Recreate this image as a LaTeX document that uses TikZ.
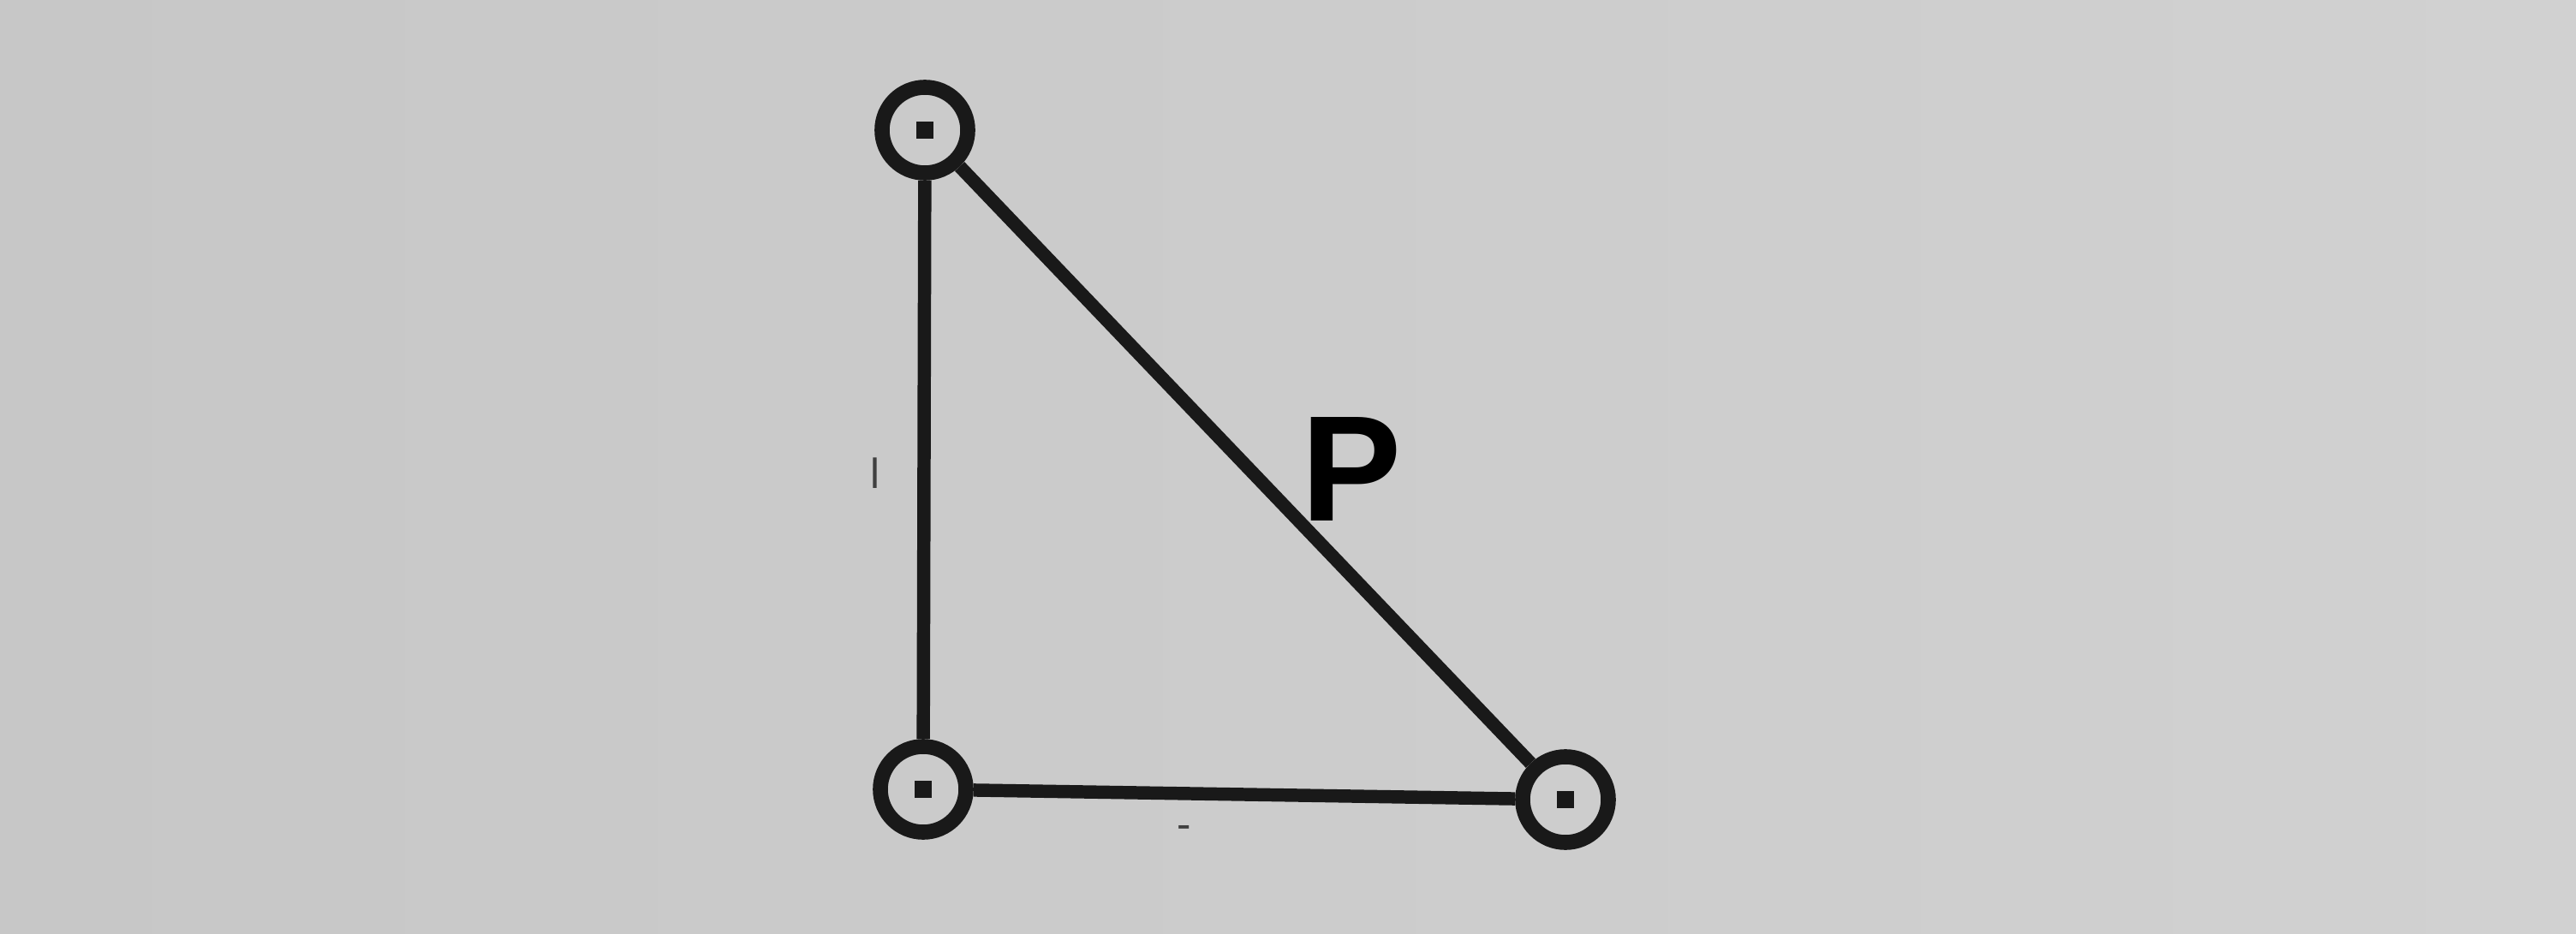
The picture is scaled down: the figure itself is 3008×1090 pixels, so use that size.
\documentclass[tikz,border=0pt]{standalone}
\usepackage{fontspec}
\setmainfont{Liberation Sans}
\begin{document}
\begin{tikzpicture}[x=0.01cm,y=0.01cm,
  pin/.style={circle,draw=black!90,line width=5pt,minimum size=1.0cm,inner sep=0pt,fill=none},
  link/.style={draw=black!90,line width=4.4pt},
  dotm/.style={rectangle,fill=black!90,inner sep=0pt,minimum size=0.2cm}]
\shade[left color=black!22,right color=black!18] (0,0) rectangle (3008,1090);
\useasboundingbox (0,0) rectangle (3008,1090);
\node[pin] (A) at (1080,938) {};
\node[pin] (B) at (1078,168) {};
\node[pin] (C) at (1828,156) {};
\node[dotm] (a) at (A.center) {};
\node[dotm] (b) at (B.center) {};
\node[dotm] (c) at (C.center) {};
\draw[link] (A) -- (B);
\draw[link] (B) -- (C);
\draw[link] (A) -- (C);
\node[font=\fontsize{50}{50}\selectfont\bfseries] (P) at (1578,542) {P};
\node[font=\fontsize{14}{14}\selectfont,text=black!75] (l) at (1022,537) {l};
\node[font=\fontsize{14}{14}\selectfont,text=black!75] (m) at (1383,118) {-};
\end{tikzpicture}
\end{document}
